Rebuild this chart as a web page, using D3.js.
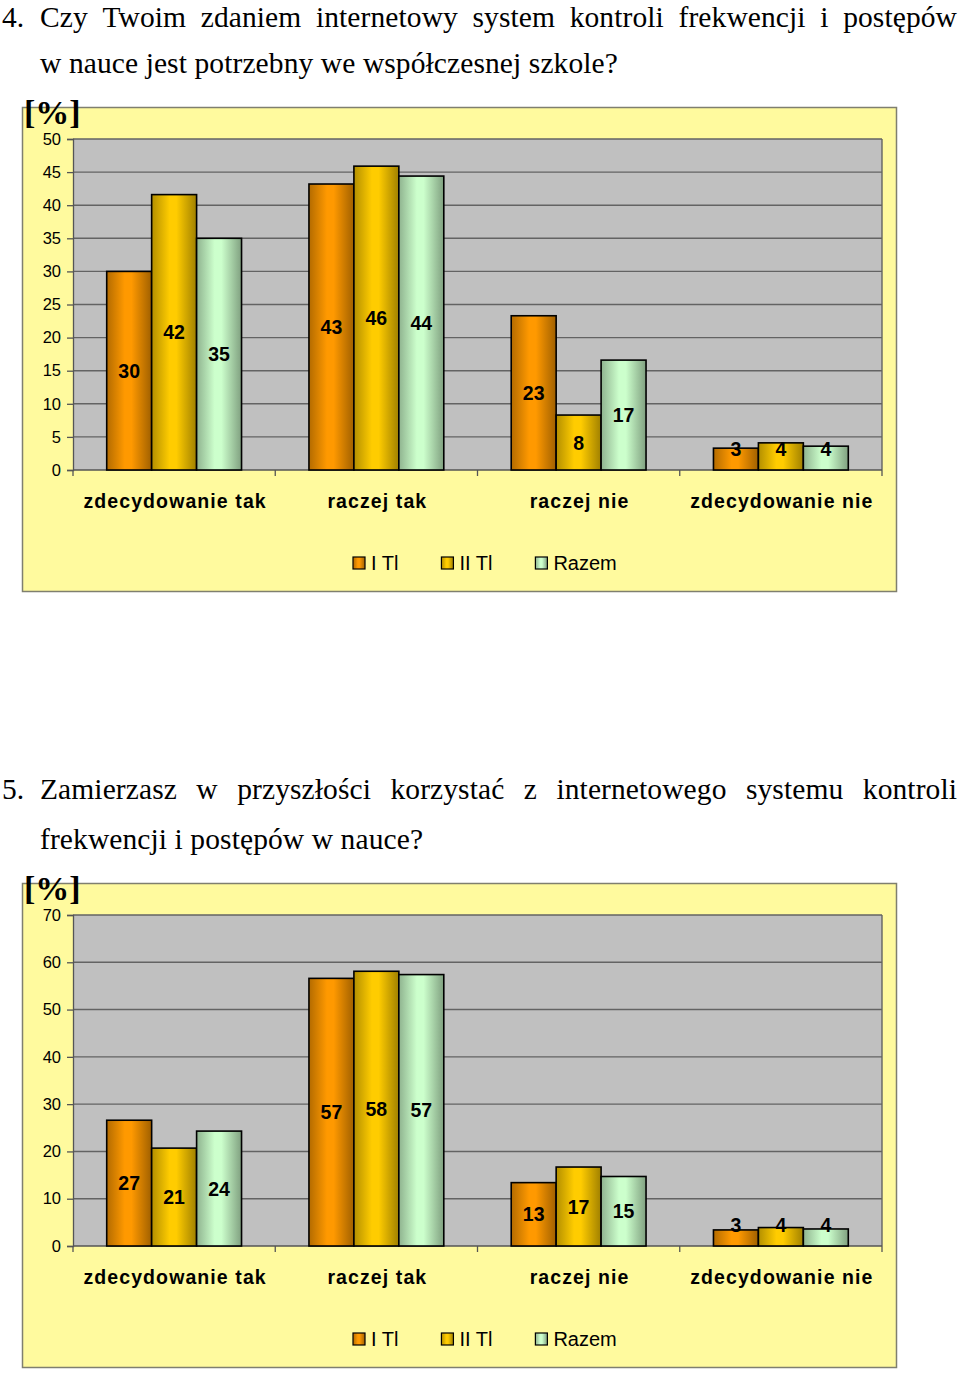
<!DOCTYPE html>
<html><head><meta charset="utf-8">
<script src="https://cdn.jsdelivr.net/npm/d3@7"></script>
<style>body{margin:0;background:#fff}svg{display:block}</style>
</head><body>
<script>
const categories = ["zdecydowanie tak", "raczej tak", "raczej nie", "zdecydowanie nie"];
const seriesNames = ["I Tl", "II Tl", "Razem"];

const q4Title = ["4.", "Czy Twoim zdaniem internetowy system kontroli frekwencji i postępów", "w nauce jest potrzebny we współczesnej szkole?"];
const q4ITl = [30, 43.2, 23.3, 3.3];
const q4IITl = [41.6, 45.9, 8.3, 4.1];
const q4Razem = [35, 44.4, 16.6, 3.6];
const q4Ticks = [0, 5, 10, 15, 20, 25, 30, 35, 40, 45, 50];

const q5Title = ["5.", "Zamierzasz w przyszłości korzystać z internetowego systemu kontroli", "frekwencji i postępów w nauce?"];
const q5ITl = [26.6, 56.6, 13.4, 3.4];
const q5IITl = [20.7, 58.1, 16.7, 3.9];
const q5Razem = [24.3, 57.4, 14.7, 3.6];
const q5Ticks = [0, 10, 20, 30, 40, 50, 60, 70];

const seriesColors = ["#FF9900", "#FFCC00", "#CCFFCC"];

const W = 960, H = 1373;
const svg = d3.select("body").append("svg").attr("width", W).attr("height", H);
const defs = svg.append("defs");
seriesColors.forEach((c, i) => {
  const g = defs.append("linearGradient").attr("id", "grad" + i).attr("x1", "0").attr("x2", "1").attr("y1", "0").attr("y2", "0");
  const base = d3.color(c);
  g.append("stop").attr("offset", "0%").attr("stop-color", d3.rgb(base).darker(1.0));
  g.append("stop").attr("offset", "40%").attr("stop-color", c);
  g.append("stop").attr("offset", "55%").attr("stop-color", c);
  g.append("stop").attr("offset", "100%").attr("stop-color", d3.rgb(base).darker(1.3));
});

function justifyLine(g, words, x0, x1, y) {
  const nodes = words.map(w => g.append("text").attr("y", y).text(w));
  const widths = nodes.map(n => n.node().getComputedTextLength());
  const total = d3.sum(widths);
  const gap = (x1 - x0 - total) / (words.length - 1);
  let x = x0;
  nodes.forEach((n, i) => { n.attr("x", x); x += widths[i] + gap; });
}

function drawChart(oy, title, seriesData, ticks, yMax) {
  const g = svg.append("g");
  const tg = g.append("g").attr("font-family", "'Liberation Serif','Times New Roman',serif").attr("font-size", 29.5)
    .attr("letter-spacing", 0.1).attr("fill", "#000");
  const line1 = Math.max(23 + oy, 26.5);
  tg.append("text").attr("x", 2).attr("y", line1).text(title[0]);
  justifyLine(tg, title[1].split(" "), 40, 957, line1);
  tg.append("text").attr("x", 40).attr("y", 73 + oy).text(title[2]);

  // chart box
  g.append("rect").attr("x", 22.5).attr("y", 107.5 + oy).attr("width", 874).attr("height", 484)
    .attr("fill", "#FFFA9E").attr("stroke", "#7f7f6f").attr("stroke-width", 1.5);

  const plotL = 73, plotR = 882, plotT = 139 + oy, plotB = 470 + oy;
  const y = d3.scaleLinear().domain([0, yMax]).range([plotB, plotT]);
  const x0 = d3.scaleBand().domain(categories).range([plotL, plotR]).paddingInner(0).paddingOuter(0);
  const x1 = d3.scaleBand().domain(seriesNames).range([0, x0.bandwidth()]).paddingInner(0).paddingOuter(0.75);

  g.append("rect").attr("x", plotL).attr("y", plotT).attr("width", plotR - plotL).attr("height", plotB - plotT)
    .attr("fill", "#C0C0C0");

  // gridlines
  g.append("g").selectAll("line").data(ticks.filter(t => t > 0)).join("line")
    .attr("x1", plotL).attr("x2", plotR).attr("y1", d => y(d)).attr("y2", d => y(d))
    .attr("stroke", "#636363").attr("stroke-width", 1.4);
  g.append("line").attr("x1", plotR).attr("x2", plotR).attr("y1", plotT).attr("y2", plotB)
    .attr("stroke", "#636363").attr("stroke-width", 1.4);

  // y axis
  const yAxis = d3.axisLeft(y).tickValues(ticks).tickSize(6).tickPadding(6);
  const ya = g.append("g").attr("transform", `translate(${plotL},0)`).call(yAxis);
  ya.select(".domain").attr("stroke", "#555").attr("stroke-width", 1.3);
  ya.selectAll(".tick line").attr("stroke", "#555").attr("stroke-width", 1.3);
  ya.selectAll("text").attr("font-family", "Arial, 'Liberation Sans', sans-serif").attr("font-size", 16.5).attr("fill", "#000");

  // x axis line and ticks
  g.append("line").attr("x1", plotL).attr("x2", plotR).attr("y1", plotB).attr("y2", plotB).attr("stroke", "#555").attr("stroke-width", 1.3);
  const bounds = categories.map(c => x0(c)).concat([plotR]);
  g.append("g").selectAll("line").data(bounds).join("line")
    .attr("x1", d => d).attr("x2", d => d).attr("y1", plotB).attr("y2", plotB + 6)
    .attr("stroke", "#555").attr("stroke-width", 1.3);

  // bars
  const fmt = d3.format(".0f");
  seriesData.forEach((vals, si) => {
    const sg = g.append("g");
    sg.selectAll("rect").data(vals).join("rect")
      .attr("x", (d, i) => x0(categories[i]) + x1(seriesNames[si]))
      .attr("y", d => y(d))
      .attr("width", x1.bandwidth())
      .attr("height", d => plotB - y(d))
      .attr("fill", `url(#grad${si})`)
      .attr("stroke", "#000").attr("stroke-width", 1.6);
    sg.selectAll("text").data(vals).join("text")
      .attr("x", (d, i) => x0(categories[i]) + x1(seriesNames[si]) + x1.bandwidth() / 2)
      .attr("y", d => Math.min((y(d) + plotB) / 2, plotB - 21))
      .attr("dy", "0.36em")
      .attr("text-anchor", "middle")
      .attr("font-family", "Arial, 'Liberation Sans', sans-serif").attr("font-weight", "bold").attr("font-size", 19.5)
      .attr("fill", "#000")
      .text(d => fmt(d));
  });

  // category labels
  g.append("g").selectAll("text").data(categories).join("text")
    .attr("x", d => x0(d) + x0.bandwidth() / 2 + 1).attr("y", 508 + oy)
    .attr("text-anchor", "middle")
    .attr("font-family", "Arial, 'Liberation Sans', sans-serif").attr("font-weight", "bold").attr("font-size", 19.5)
    .attr("letter-spacing", 1.1)
    .text(d => d);

  // [%]
  g.append("text").attr("x", 24).attr("y", 124 + oy)
    .attr("font-family", "'Liberation Serif','Times New Roman',serif").attr("font-weight", "bold").attr("font-size", 34)
    .text("[%]");

  // legend
  const lg = g.append("g");
  let lx = 353;
  const ly = 563 + oy;
  seriesNames.forEach((s, i) => {
    lg.append("rect").attr("x", lx).attr("y", ly - 6).attr("width", 12).attr("height", 12)
      .attr("fill", `url(#grad${i})`).attr("stroke", "#000").attr("stroke-width", 1.2);
    const t = lg.append("text").attr("x", lx + 18).attr("y", ly).attr("dy", "0.36em")
      .attr("font-family", "Arial, 'Liberation Sans', sans-serif").attr("font-size", 20).text(s);
    lx += 18 + t.node().getComputedTextLength() + 43;
  });
}

drawChart(0, q4Title, [q4ITl, q4IITl, q4Razem], q4Ticks, 50);
drawChart(776, q5Title, [q5ITl, q5IITl, q5Razem], q5Ticks, 70);
</script>
</body></html>
